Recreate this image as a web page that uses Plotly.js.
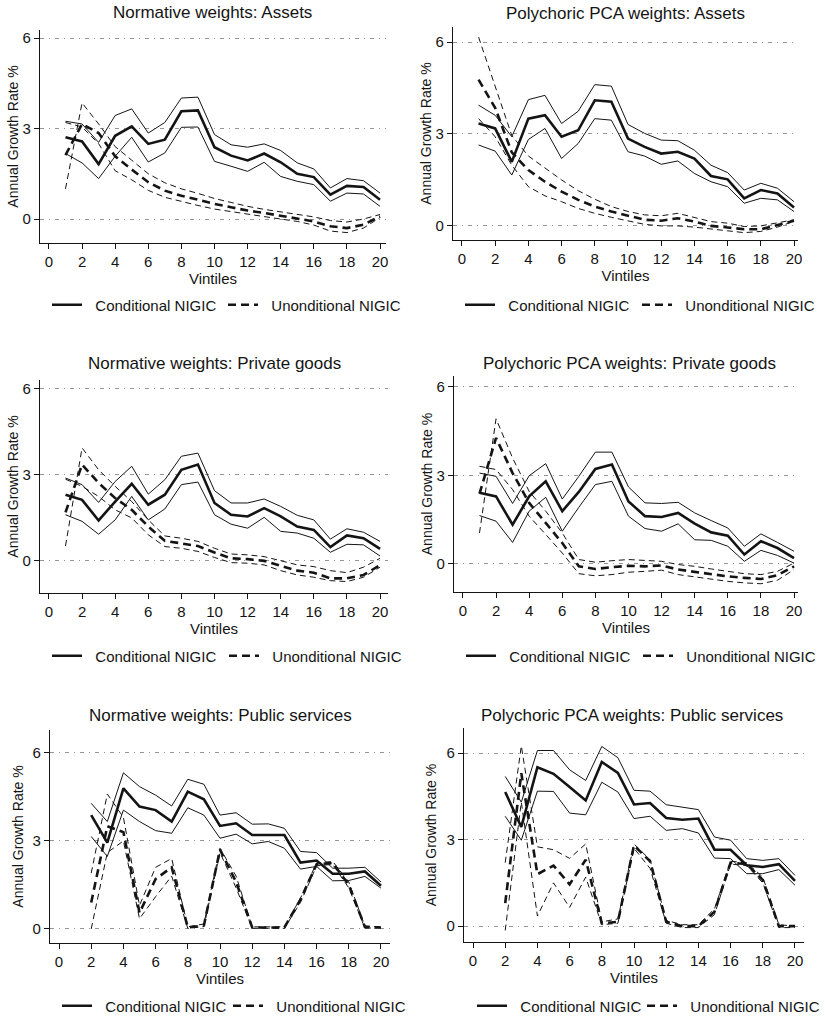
<!DOCTYPE html>
<html>
<head>
<meta charset="utf-8">
<script src="https://cdn.plot.ly/plotly-3.0.1.min.js"></script>
<style>html,body{margin:0;padding:0;background:#fff;}#chart{width:825px;height:1016px;}</style>
</head>
<body>
<div id="chart"></div>
<script>
// ---------- DATA ----------
const vintiles = [1,2,3,4,5,6,7,8,9,10,11,12,13,14,15,16,17,18,19,20];
const vintilesFrom2 = [2,3,4,5,6,7,8,9,10,11,12,13,14,15,16,17,18,19,20];
const xTickVals = [0,2,4,6,8,10,12,14,16,18,20];
const yTickVals = [0,3,6];

const panelTitles = [
  "Normative weights: Assets",
  "Polychoric PCA weights: Assets",
  "Normative weights: Private goods",
  "Polychoric PCA weights: Private goods",
  "Normative weights: Public services",
  "Polychoric PCA weights: Public services"
];
const condName = "Conditional NIGIC";
const uncondName = "Unonditional NIGIC";
const xTitle = "Vintiles";
const yTitle = "Annual Growth Rate %";

// Panel 1: Normative weights, Assets
const nAssetsCond   = [2.71,2.57,1.82,2.76,3.07,2.49,2.63,3.57,3.60,2.38,2.10,1.94,2.17,1.88,1.50,1.39,0.81,1.10,1.06,0.64];
const nAssetsCondHi = [3.24,3.15,2.54,3.43,3.65,2.85,3.20,4.01,4.04,2.80,2.46,2.38,2.49,2.27,1.86,1.66,1.03,1.34,1.27,0.86];
const nAssetsCondLo = [2.17,1.86,1.34,2.08,2.71,1.89,2.19,3.04,3.05,1.91,1.75,1.58,1.88,1.41,1.25,1.14,0.59,0.86,0.83,0.42];
const nAssetsUnc    = [2.12,3.15,2.85,2.08,1.64,1.22,0.94,0.77,0.64,0.50,0.39,0.28,0.20,0.11,0.03,-0.08,-0.24,-0.30,-0.19,0.09];
const nAssetsUncA   = [1.00,3.85,3.15,2.40,1.95,1.50,1.20,1.00,0.85,0.68,0.55,0.42,0.32,0.24,0.15,0.07,-0.05,-0.10,0.00,0.15];
const nAssetsUncB   = [3.20,3.05,2.50,1.60,1.30,0.95,0.72,0.58,0.45,0.33,0.24,0.15,0.08,0.00,-0.08,-0.20,-0.40,-0.45,-0.30,0.05];

// Panel 2: Polychoric PCA weights, Assets
const pAssetsCond   = [3.34,3.18,2.09,3.50,3.61,2.91,3.12,4.10,4.05,2.85,2.58,2.36,2.42,2.20,1.63,1.52,0.90,1.17,1.06,0.60];
const pAssetsCondHi = [3.94,3.61,2.91,4.12,4.26,3.34,3.74,4.61,4.56,3.31,3.02,2.80,2.78,2.47,1.98,1.74,1.17,1.39,1.23,0.79];
const pAssetsCondLo = [2.64,2.44,1.66,2.82,3.18,2.20,2.69,3.50,3.45,2.42,2.28,2.01,2.12,1.71,1.44,1.28,0.74,0.90,0.85,0.47];
const pAssetsUnc    = [4.77,3.85,2.40,1.82,1.44,1.12,0.85,0.63,0.47,0.33,0.20,0.17,0.25,0.14,0.00,-0.05,-0.11,-0.11,0.02,0.17];
const pAssetsUncA   = [6.16,4.55,2.95,2.28,1.88,1.50,1.15,0.87,0.63,0.47,0.36,0.33,0.41,0.28,0.14,0.09,-0.02,0.00,0.09,0.20];
const pAssetsUncB   = [3.50,2.91,1.98,1.28,0.98,0.79,0.57,0.41,0.28,0.17,0.05,0.00,0.00,-0.04,-0.11,-0.16,-0.22,-0.18,-0.04,0.15];

// Panel 3: Normative weights, Private goods
const nPrivCond   = [2.31,2.13,1.41,2.07,2.69,1.96,2.31,3.18,3.36,2.02,1.61,1.55,1.84,1.55,1.20,1.08,0.48,0.89,0.79,0.42];
const nPrivCondHi = [2.89,2.66,2.04,2.77,3.30,2.33,2.83,3.65,3.76,2.45,2.02,2.02,2.16,1.90,1.59,1.43,0.76,1.12,1.00,0.68];
const nPrivCondLo = [1.61,1.38,0.93,1.43,2.25,1.43,1.81,2.66,2.75,1.61,1.28,1.14,1.52,1.03,0.97,0.79,0.30,0.58,0.56,0.17];
const nPrivUnc    = [1.69,3.36,2.72,2.19,1.78,1.20,0.70,0.62,0.52,0.29,0.09,0.06,0.00,-0.17,-0.34,-0.41,-0.61,-0.61,-0.49,-0.15];
const nPrivUncA   = [0.52,3.94,3.18,2.60,2.07,1.43,0.87,0.79,0.68,0.44,0.24,0.21,0.15,0.00,-0.14,-0.20,-0.34,-0.41,-0.22,0.09];
const nPrivUncB   = [2.85,2.60,2.25,1.78,1.50,0.91,0.50,0.44,0.33,0.12,-0.06,-0.08,-0.14,-0.34,-0.49,-0.57,-0.69,-0.72,-0.57,-0.22];

// Panel 4: Polychoric PCA weights, Private goods
const pPrivCond   = [2.41,2.29,1.33,2.29,2.80,1.79,2.44,3.22,3.37,2.12,1.62,1.59,1.73,1.37,1.07,0.96,0.32,0.77,0.54,0.20];
const pPrivCondHi = [3.08,2.97,2.05,2.99,3.40,2.20,2.97,3.79,3.79,2.61,2.07,2.05,2.09,1.73,1.47,1.22,0.60,1.02,0.73,0.43];
const pPrivCondLo = [1.64,1.45,0.73,1.79,2.26,1.11,1.92,2.69,2.80,1.62,1.20,1.11,1.36,0.82,0.80,0.60,0.09,0.46,0.29,0.03];
const pPrivUnc    = [2.38,4.27,3.08,2.07,1.39,0.71,-0.08,-0.17,-0.11,-0.06,-0.08,-0.05,-0.19,-0.27,-0.36,-0.42,-0.47,-0.51,-0.38,-0.08];
const pPrivUncA   = [1.05,4.92,3.59,2.46,1.79,1.05,0.15,0.06,0.11,0.15,0.12,0.09,-0.02,-0.08,-0.17,-0.25,-0.33,-0.36,-0.25,0.03];
const pPrivUncB   = [3.31,3.20,2.52,1.62,1.00,0.37,-0.33,-0.40,-0.36,-0.28,-0.25,-0.21,-0.36,-0.44,-0.53,-0.59,-0.64,-0.67,-0.55,-0.19];

// Panel 5: Normative weights, Public services (vintiles 2-20)
const nPubCond   = [3.88,2.94,4.79,4.17,4.05,3.66,4.68,4.42,3.51,3.60,3.20,3.20,3.20,2.26,2.33,1.88,1.88,1.96,1.47];
const nPubCondHi = [4.28,3.66,5.32,4.85,4.56,4.19,5.10,4.93,3.88,3.96,3.57,3.58,3.43,2.64,2.60,2.07,2.07,2.10,1.60];
const nPubCondLo = [3.15,2.47,4.05,3.66,3.35,3.26,4.13,3.88,3.09,3.23,2.90,2.98,2.75,2.04,2.13,1.64,1.65,1.79,1.39];
const nPubUnc    = [0.90,3.50,3.30,0.55,1.70,2.10,0.05,0.12,2.70,1.60,0.05,0.05,0.05,1.00,2.20,2.25,1.50,0.07,0.05];
const nPubUncA   = [1.90,4.60,3.80,0.80,2.10,2.40,0.07,0.17,2.75,1.80,0.07,0.07,0.07,1.05,2.25,2.30,1.60,0.10,0.07];
const nPubUncB   = [0.00,2.60,3.00,0.35,1.10,1.80,0.02,0.08,2.60,1.40,0.02,0.02,0.02,0.90,2.15,2.20,1.40,0.03,0.03];

// Panel 6: Polychoric PCA weights, Public services (vintiles 2-20)
const pPubCond   = [4.65,3.44,5.51,5.28,4.82,4.36,5.69,5.31,4.22,4.27,3.75,3.69,3.73,2.65,2.65,2.11,2.05,2.15,1.57];
const pPubCondHi = [5.19,4.30,6.09,6.09,5.42,5.05,6.23,5.84,4.71,4.68,4.21,4.13,4.04,3.09,2.98,2.34,2.28,2.34,1.76];
const pPubCondLo = [3.81,2.98,4.68,4.67,3.92,3.86,4.99,4.65,3.73,3.81,3.32,3.38,3.23,2.36,2.34,1.82,1.82,1.96,1.42];
const pPubUnc    = [0.80,5.30,1.80,2.10,1.45,2.30,0.10,0.15,2.80,2.25,0.15,0.00,0.00,0.50,2.20,2.15,1.60,0.00,0.00];
const pPubUncA   = [2.20,6.25,2.75,2.65,2.35,2.85,0.15,0.25,2.85,2.30,0.20,0.05,0.05,0.60,2.25,2.20,1.70,0.05,0.00];
const pPubUncB   = [-0.15,4.30,0.35,1.50,0.65,1.70,0.05,0.10,2.70,2.00,0.10,-0.05,-0.05,0.40,2.15,2.10,1.50,-0.05,-0.05];

// ---------- LAYOUT / STYLE ----------
const W = 825, H = 1016;
const INK = '#141414';
const FONT = 'Liberation Sans, Arial, Helvetica, sans-serif';

// pixel boxes of each plot region: [left, right, top, bottom], axis ranges, title centre,
// legend: [conditional sample x, unconditional sample x, y], y-title standoff
const panels = [
  {x: vintiles, cond: nAssetsCond, hi: nAssetsCondHi, lo: nAssetsCondLo, unc: nAssetsUnc, ua: nAssetsUncA, ub: nAssetsUncB,
   box: [40, 386, 30, 243], xr: [-0.54, 20.36], yr: [-0.795, 6.265], title: [212, 13], leg: [52, 228, 305], ys: 0},
  {x: vintiles, cond: pAssetsCond, hi: pAssetsCondHi, lo: pAssetsCondLo, unc: pAssetsUnc, ua: pAssetsUncA, ub: pAssetsUncB,
   box: [453, 798, 27, 240], xr: [-0.54, 20.24], yr: [-0.46, 6.49], title: [625, 14], leg: [465, 642, 305], ys: 0},
  {x: vintiles, cond: nPrivCond, hi: nPrivCondHi, lo: nPrivCondLo, unc: nPrivUnc, ua: nPrivUncA, ub: nPrivUncB,
   box: [40, 388, 380, 593], xr: [-0.54, 20.48], yr: [-1.12, 6.31], title: [214, 363], leg: [52, 229, 656], ys: 0},
  {x: vintiles, cond: pPrivCond, hi: pPrivCondHi, lo: pPrivCondLo, unc: pPrivUnc, ua: pPrivUncA, ub: pPrivUncB,
   box: [454, 798, 376, 592], xr: [-0.54, 20.24], yr: [-0.95, 6.37], title: [629, 363], leg: [466, 643, 656], ys: 0},
  {x: vintilesFrom2, cond: nPubCond, hi: nPubCondHi, lo: nPubCondLo, unc: nPubUnc, ua: nPubUncA, ub: nPubUncB,
   box: [50, 390, 730, 943], xr: [-0.56, 20.56], yr: [-0.48, 6.78], title: [220, 715], leg: [62, 233, 1006], ys: 5},
  {x: vintilesFrom2, cond: pPubCond, hi: pPubCondHi, lo: pPubCondLo, unc: pPubUnc, ua: pPubUncA, ub: pPubUncB,
   box: [464, 804, 728, 942], xr: [-0.56, 20.56], yr: [-0.55, 6.87], title: [632, 715], leg: [477, 647, 1006], ys: 6}
];

const traces = [];
const layout = {
  width: W, height: H,
  margin: {l: 0, r: 0, t: 0, b: 0, autoexpand: false},
  paper_bgcolor: '#fff', plot_bgcolor: '#fff',
  font: {family: FONT, color: INK, size: 15},
  annotations: [],
  showlegend: true
};

const pad = '\u00a0\u00a0';
function legendBox(xpx, ypx) {
  return {
    orientation: 'h', x: (xpx - 5) / W, y: 1 - ypx / H, xanchor: 'left', yanchor: 'middle',
    xref: 'paper', yref: 'paper', bgcolor: 'rgba(0,0,0,0)', borderwidth: 0,
    font: {size: 15, family: FONT, color: INK}, itemwidth: 30
  };
}

panels.forEach((p, i) => {
  const n = i + 1;
  const sfx = (n === 1 ? '' : String(n));
  const xa = 'x' + sfx, ya = 'y' + sfx;
  const legCond = 'legend' + (2 * i + 1 === 1 ? '' : String(2 * i + 1));
  const legUnc = 'legend' + String(2 * i + 2);
  const common = {type: 'scatter', mode: 'lines', xaxis: xa, yaxis: ya, hoverinfo: 'skip'};
  traces.push(Object.assign({}, common, {x: p.x, y: p.hi, line: {color: INK, width: 1}, showlegend: false}));
  traces.push(Object.assign({}, common, {x: p.x, y: p.lo, line: {color: INK, width: 1}, showlegend: false}));
  traces.push(Object.assign({}, common, {x: p.x, y: p.ua, line: {color: INK, width: 1, dash: '6px,4px'}, showlegend: false}));
  traces.push(Object.assign({}, common, {x: p.x, y: p.ub, line: {color: INK, width: 1, dash: '6px,4px'}, showlegend: false}));
  traces.push(Object.assign({}, common, {x: p.x, y: p.unc, name: pad + uncondName, legend: legUnc,
    line: {color: INK, width: 2.6, dash: '8px,5px'}, showlegend: true}));
  traces.push(Object.assign({}, common, {x: p.x, y: p.cond, name: pad + condName, legend: legCond,
    line: {color: INK, width: 2.6}, showlegend: true}));

  const [l, r, t, b] = p.box;
  layout['xaxis' + sfx] = {
    domain: [l / W, r / W], anchor: ya, range: p.xr,
    tickvals: xTickVals, ticks: 'outside', ticklen: 5, tickwidth: 1, tickcolor: INK,
    showline: true, linecolor: INK, linewidth: 1.2, showgrid: false, zeroline: false,
    tickfont: {size: 15, family: FONT, color: INK},
    title: {text: xTitle, font: {size: 15, family: FONT, color: INK}, standoff: 0}
  };
  layout['yaxis' + sfx] = {
    domain: [1 - b / H, 1 - t / H], anchor: xa, range: p.yr,
    tickvals: yTickVals, ticks: 'outside', ticklen: 5, tickwidth: 1, tickcolor: INK,
    showline: true, linecolor: INK, linewidth: 1.2, zeroline: false,
    showgrid: true, gridcolor: '#7a7a7a', gridwidth: 0.8, griddash: '4px,5px,1px,5px',
    tickfont: {size: 15, family: FONT, color: INK},
    title: {text: yTitle, font: {size: 14, family: FONT, color: INK}, standoff: p.ys}
  };
  layout.annotations.push({
    text: panelTitles[i], xref: 'paper', yref: 'paper',
    x: p.title[0] / W, y: 1 - p.title[1] / H, xanchor: 'center', yanchor: 'middle',
    showarrow: false, font: {size: 17, family: FONT, color: INK}
  });
  layout[legCond] = legendBox(p.leg[0], p.leg[2]);
  layout[legUnc] = legendBox(p.leg[1], p.leg[2]);
});

Plotly.newPlot('chart', traces, layout, {staticPlot: true, displayModeBar: false});
</script>
</body>
</html>
